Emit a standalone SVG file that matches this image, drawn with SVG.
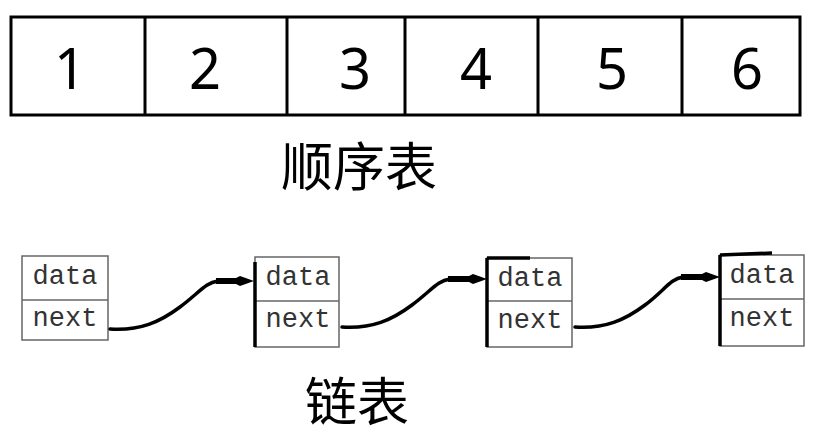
<svg xmlns="http://www.w3.org/2000/svg" width="825" height="443" viewBox="0 0 825 443">
<defs>
<style>
.cell{fill:#fff;stroke:#000;stroke-width:3}
.div{stroke:#000;stroke-width:3}
.num{font-family:"Noto Sans","Open Sans",sans-serif;font-size:56px;fill:#000;text-anchor:middle}
.cap{font-family:"Noto Sans CJK SC","Noto Sans",sans-serif;font-size:52px;fill:#000;text-anchor:middle}
.box{fill:#fff;stroke:#666;stroke-width:1.5}
.lbl{font-family:"Liberation Mono","DejaVu Sans Mono",monospace;font-size:27px;fill:#333;text-anchor:middle}
.edge{stroke:#000;stroke-width:3.5;fill:none}
.curve{fill:none;stroke:#000;stroke-width:3.5;stroke-linecap:round}
.shaft{fill:none;stroke:#000;stroke-width:6}
</style>
<marker id="arrow" markerUnits="userSpaceOnUse" markerWidth="24" markerHeight="12" viewBox="0 0 24 12" refX="10" refY="6" orient="auto">
<path d="M0,6 L10,1 L24,6 L10,11 Z" fill="#000"/>
</marker>
</defs>
<rect width="825" height="443" fill="#fff"/>

<g id="array">
<rect class="cell" x="11" y="17" width="789" height="98"/>
<line class="div" x1="145" y1="17" x2="145" y2="115"/>
<line class="div" x1="287" y1="17" x2="287" y2="115"/>
<line class="div" x1="405" y1="17" x2="405" y2="115"/>
<line class="div" x1="538" y1="17" x2="538" y2="115"/>
<line class="div" x1="682" y1="17" x2="682" y2="115"/>
<text class="num" x="70" y="89">1</text>
<text class="num" x="205" y="89">2</text>
<text class="num" x="355" y="89">3</text>
<text class="num" x="476" y="89">4</text>
<text class="num" x="612" y="89">5</text>
<text class="num" x="747" y="89">6</text>
</g>
<text id="title-array" class="cap" x="359" y="186">顺序表</text>

<g id="node1">
<rect class="box" x="22" y="256" width="86" height="84"/>
<line class="box" x1="22" y1="300" x2="108" y2="300"/>
<text class="lbl" x="65" y="284">data</text>
<text class="lbl" x="65" y="326">next</text>
</g>
<g id="node2">
<rect class="box" x="255" y="257" width="84" height="90"/>
<line class="box" x1="255" y1="301" x2="339" y2="301"/>
<line class="edge" x1="255" y1="262" x2="255" y2="347"/>
<text class="lbl" x="298" y="285">data</text>
<text class="lbl" x="298" y="327">next</text>
</g>
<g id="node3">
<rect class="box" x="487" y="258" width="85" height="89"/>
<line class="box" x1="487" y1="301" x2="572" y2="301"/>
<line class="edge" x1="487" y1="258" x2="487" y2="347"/>
<line class="edge" x1="487" y1="258" x2="530" y2="258"/>
<text class="lbl" x="530" y="286">data</text>
<text class="lbl" x="530" y="328">next</text>
</g>
<g id="node4">
<rect class="box" x="720" y="255" width="84" height="91"/>
<line class="box" x1="720" y1="299" x2="804" y2="299"/>
<line class="edge" x1="720" y1="255" x2="720" y2="346"/>
<line class="edge" x1="720" y1="255" x2="772" y2="253"/>
<text class="lbl" x="762" y="283">data</text>
<text class="lbl" x="762" y="326">next</text>
</g>
<text id="title-list" class="cap" x="357" y="421">链表</text>

<g id="connectors">
<g>
<path class="curve" d="M110,329 C140,331 160,322 180,307 S205,283 218,281"/>
<path class="shaft" d="M216,281 L240,281" marker-end="url(#arrow)"/>
</g>
<g>
<path class="curve" d="M342,327 C372,329 392,320 412,305 S437,281 450,279"/>
<path class="shaft" d="M448,279 L473,279" marker-end="url(#arrow)"/>
</g>
<g>
<path class="curve" d="M575,327 C605,329 625,320 645,305 S670,279 683,277"/>
<path class="shaft" d="M681,277 L706,277" marker-end="url(#arrow)"/>
</g>
</g>
</svg>
